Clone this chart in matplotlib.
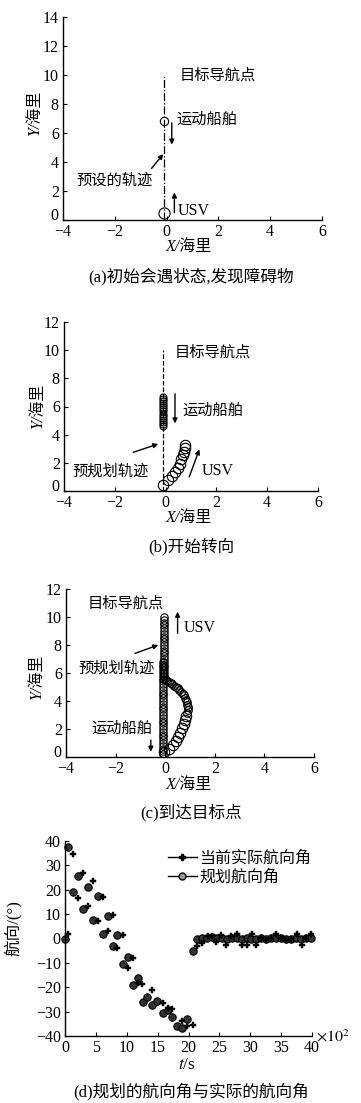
import matplotlib
matplotlib.use("Agg")
import matplotlib.pyplot as plt
from matplotlib.lines import Line2D

plt.rcParams['mathtext.fontset'] = 'stix'
plt.rcParams['font.family'] = ['Liberation Serif', 'Noto Sans CJK SC']

W, H = 361, 1103
SERIF = ['Liberation Serif', 'Noto Sans CJK SC']
CJK = ['Noto Sans CJK SC', 'DejaVu Sans']

# ---------------- data ----------------
# (a) initial state
a_track_x = [-0.1, -0.1]
a_track_y = [0.0, 10.0]
a_usv = (-0.1, 0.45)
a_ship = (-0.1, 6.8)

# (b) start turning
b_track_x = [-0.1, -0.1]
b_track_y = [0.0, 10.0]
b_usv_x = [-0.1, 0.1, 0.25, 0.38, 0.48, 0.55, 0.62, 0.68, 0.72, 0.75, 0.77]
b_usv_y = [0.45, 0.8, 1.05, 1.35, 1.65, 1.95, 2.25, 2.55, 2.8, 3.05, 3.25]
b_ship_y = [4.6, 4.75, 4.9, 5.05, 5.2, 5.35, 5.5, 5.65, 5.8, 5.95, 6.1, 6.25,
            6.4, 6.55, 6.7]
b_ship_x = -0.1

# (c) arrive at target
c_ship_x = -0.08
c_ship_y = [6.8, 6.6, 6.4, 6.2, 6.0, 5.8, 5.6, 5.4, 5.2, 5.0, 4.8, 4.6, 4.4,
            4.2, 4.0, 3.8, 3.6, 3.4, 3.2, 3.0, 2.8, 2.6, 2.4, 2.2, 2.0, 1.8,
            1.6, 1.4, 1.2, 1.0, 0.8, 0.6, 0.4, 0.2]
c_usv_low_x = [-0.05, 0.15, 0.3, 0.42, 0.52, 0.6, 0.67, 0.74, 0.8, 0.85]
c_usv_low_y = [0.35, 0.6, 0.86, 1.15, 1.45, 1.75, 2.05, 2.35, 2.65, 2.95]
c_usv_up_x = [0.88, 0.9, 0.9, 0.89, 0.87, 0.84, 0.8, 0.75, 0.7, 0.64, 0.57,
              0.5, 0.43, 0.36, 0.29, 0.22, 0.15, 0.08, 0.02]
c_usv_up_y = [3.15, 3.35, 3.55, 3.75, 3.95, 4.1, 4.25, 4.4, 4.52, 4.65, 4.78,
              4.9, 5.0, 5.1, 5.2, 5.28, 5.36, 5.44, 5.5]
c_usv_col_x = -0.05
c_usv_col_y = [5.6, 5.8, 6.0, 6.2, 6.4, 6.6, 6.8, 7.0, 7.2, 7.4, 7.6, 7.8,
               8.0, 8.2, 8.4, 8.6, 8.8, 9.0, 9.2, 9.4, 9.6, 9.8, 10.0]

# (d) headings, t in 1e2 s
plan_t = [0.0, 0.55, 1.25, 2.15, 2.95, 3.8, 4.6, 5.3, 6.2, 6.95, 7.8, 8.5,
          9.35, 10.15, 10.95, 11.75, 12.6, 13.35, 14.15, 14.95, 15.8, 16.6,
          17.4, 18.2, 19.0, 19.8, 20.65, 21.45, 22.2, 23.0, 23.8, 24.6, 25.4,
          26.2, 27.0, 27.8, 28.6, 29.4, 30.2, 31.0, 31.8, 32.6, 33.4, 34.2,
          35.0, 35.8, 36.6, 37.4, 38.2, 39.0, 39.8]
plan_v = [0.0, 37.5, 19.2, 25.8, 12.3, 21.2, 7.6, 17.6, 1.9, 9.3, -3.1, 1.3,
          -10.4, -7.5, -19.0, -16.3, -25.9, -24.1, -27.3, -25.6, -30.6, -29.5,
          -32.0, -36.0, -36.6, -33.0, -5.1, -0.2, 0.1, 0.3, 0.5, 0.2, 0.4,
          0.0, 0.3, 0.2, -0.2, 0.1, 0.0, -0.2, 0.1, 0.0, 0.2, 0.4, 0.1, 0.0,
          -0.2, 0.2, 0.0, 0.1, 0.2]
act_t = [0.55, 1.25, 2.15, 2.95, 3.8, 4.6, 5.3, 6.2, 6.95, 7.8, 8.5, 9.35,
         10.15, 10.95, 11.75, 12.55, 14.15, 15.8, 16.6, 17.4, 18.98, 19.8,
         20.65, 21.45, 22.2, 23.1, 23.8, 24.5, 25.3, 26.1, 26.9, 27.9, 28.7,
         29.5, 30.3, 31.0, 31.8, 32.6, 33.4, 34.2, 35.0, 35.8, 36.6, 37.5,
         38.3, 39.1, 39.9]
act_v = [1.8, 34.5, 16.6, 26.8, 13.2, 23.4, 7.3, 16.9, 3.1, 9.6, -3.7, 1.6,
         -12.2, -8.0, -18.2, -18.5, -21.0, -26.6, -28.7, -29.0, -34.0, -35.8,
         -35.3, -3.0, -2.0, 1.2, 1.1, -1.5, 1.4, -2.6, 1.1, 2.0, -2.5, -2.5,
         1.8, -2.7, 0.3, -0.5, 0.2, 1.8, 0.3, -0.5, 0.0, 1.8, -2.5, 0.2, 2.0]

fig = plt.figure(figsize=(W / 100, H / 100), dpi=100)


def fx(px):
    return px / W


def fy(py):
    return 1 - py / H


def make_ax(l, r, top, bot):
    ax = fig.add_axes([fx(l), fy(bot), (r - l) / W, (bot - top) / H])
    for s in ('top', 'right'):
        ax.spines[s].set_visible(False)
    for s in ('left', 'bottom'):
        ax.spines[s].set_linewidth(1.0)
    ax.tick_params(direction='in', length=3, width=0.8, labelsize=11.5)
    ax.tick_params(axis='x', pad=3)
    ax.tick_params(axis='y', pad=3)
    for lab in ax.get_xticklabels() + ax.get_yticklabels():
        lab.set_family(SERIF)
    return ax


def raise_zero(ax):
    ax.yaxis.get_major_ticks()[0].label1.set_verticalalignment('baseline')


def arrow(ax, x0, y0, x1, y1):
    ax.annotate('', xy=(x1, y1), xytext=(x0, y0),
                arrowprops=dict(arrowstyle='-|>', color='k', lw=1.0,
                                mutation_scale=7, shrinkA=0, shrinkB=0))


def cjk(ax, x, y, s, **kw):
    ax.text(x, y, s, family=CJK, fontsize=11, va='center', **kw)


def xylabels(xlab_y, ylab_x, ycen):
    fig.text(fx(189), fy(xlab_y), 'X/海里', family=SERIF, style='italic',
             fontsize=11.5, ha='center', va='center')
    fig.text(fx(ylab_x), fy(ycen), 'Y/海里', family=SERIF, style='italic',
             fontsize=11.5, ha='center', va='center', rotation=90)


def caption(y, s):
    fig.text(fx(191), fy(y), s, family=SERIF, fontsize=12, ha='center',
             va='center')


circ = dict(ls='none', marker='o', mfc='none', mec='k', mew=0.8)

# ---------------- (a) ----------------
ax = make_ax(63, 322, 17, 220)
ax.set_xlim(-4, 6)
ax.set_ylim(0, 14)
ax.set_xticks([-4, -2, 0, 2, 4, 6])
ax.set_yticks([0, 2, 4, 6, 8, 10, 12, 14])
raise_zero(ax)
ax.plot(a_track_x, a_track_y, color='k', ls='-.', lw=0.9)
ax.plot([a_usv[0]], [a_usv[1]], ms=8, **circ)
ax.plot([a_ship[0]], [a_ship[1]], ms=6, **circ)
arrow(ax, 0.2, 6.7, 0.2, 5.2)
arrow(ax, 0.3, 0.5, 0.3, 1.9)
arrow(ax, -0.58, 3.56, -0.13, 4.55)
cjk(ax, 0.5, 10.0, '目标导航点')
cjk(ax, 0.38, 6.97, '运动船舶')
cjk(ax, -2.0, 2.76, '预设的轨迹', ha='center')
ax.text(0.42, 0.6, 'USV', family=SERIF, fontsize=11.5, va='center')
xylabels(247, 35, 113)
caption(277, '(a)初始会遇状态,发现障碍物')

# ---------------- (b) ----------------
ax = make_ax(64, 318, 322, 491)
ax.set_xlim(-4, 6)
ax.set_ylim(0, 12)
ax.set_xticks([-4, -2, 0, 2, 4, 6])
ax.set_yticks([0, 2, 4, 6, 8, 10, 12])
raise_zero(ax)
ax.plot(b_track_x, b_track_y, color='k', ls='--', lw=0.9)
ax.plot([b_ship_x] * len(b_ship_y), b_ship_y, ms=5, **circ)
ax.plot(b_usv_x, b_usv_y, ms=7.5, **circ)
arrow(ax, 0.37, 6.9, 0.37, 4.8)
arrow(ax, 0.93, 1.0, 1.33, 2.96)
arrow(ax, -1.27, 2.75, -0.29, 3.34)
cjk(ax, 0.37, 9.9, '目标导航点')
cjk(ax, 0.67, 5.75, '运动船舶')
cjk(ax, -2.15, 1.44, '预规划轨迹', ha='center')
ax.text(1.42, 1.4, 'USV', family=SERIF, fontsize=11.5, va='center')
xylabels(518, 38, 406)
caption(547, '(b)开始转向')

# ---------------- (c) ----------------
ax = make_ax(66, 314, 589, 757)
ax.set_xlim(-4, 6)
ax.set_ylim(0, 12)
ax.set_xticks([-4, -2, 0, 2, 4, 6])
ax.set_yticks([0, 2, 4, 6, 8, 10, 12])
raise_zero(ax)
ax.plot([c_ship_x] * len(c_ship_y), c_ship_y, ms=5.3, **circ)
ax.plot([c_usv_col_x] * len(c_usv_col_y), c_usv_col_y, ms=5.3, **circ)
ax.plot(c_usv_up_x, c_usv_up_y, ms=5.5, **circ)
ax.plot(c_usv_low_x, c_usv_low_y, ms=7.5, **circ)
arrow(ax, 0.5, 8.83, 0.5, 10.38)
arrow(ax, -0.58, 1.21, -0.58, 0.38)
arrow(ax, -1.22, 7.4, -0.28, 8.0)
cjk(ax, -1.6, 10.98, '目标导航点', ha='center')
cjk(ax, -1.98, 6.34, '预规划轨迹', ha='center')
cjk(ax, -1.75, 2.05, '运动船舶', ha='center')
ax.text(0.75, 9.2, 'USV', family=SERIF, fontsize=11.5, va='center')
xylabels(785, 37, 677)
caption(813, '(c)到达目标点')

# ---------------- (d) ----------------
ax = make_ax(65, 312, 841, 1036)
ax.set_xlim(0, 40)
ax.set_ylim(-40, 40)
ax.set_xticks(range(0, 41, 5))
ax.set_yticks(range(-40, 41, 10))
ax.plot(plan_t, plan_v, ls='none', marker='o', ms=5.3, mfc='0.2', mec='k',
        mew=0.8, clip_on=False)
ax.plot(act_t, act_v, ls='none', marker='P', ms=4.2, mfc='k', mec='k',
        mew=0.3, clip_on=False)
handles = [Line2D([], [], color='k', lw=1.0, marker='P', ms=4.2),
           Line2D([], [], color='k', lw=1.0, marker='o', ms=5, mfc='0.6',
                  mec='k')]
fig.legend(handles, ['当前实际航向角', '规划航向角'], loc='upper left',
           bbox_to_anchor=(fx(168), fy(850)), frameon=False,
           prop=dict(family=CJK, size=11.5), handlelength=1.8,
           handletextpad=0.15, labelspacing=0.1, borderpad=0,
           borderaxespad=0)
fig.text(fx(316), fy(1037), r'$\times 10^2$', fontsize=11.5, ha='left',
         va='center')
fig.text(fx(187), fy(1065), r'$t$/s', fontsize=12.5, ha='center',
         va='center')
fig.text(fx(13), fy(928), '航向/(°)', family=SERIF, fontsize=12,
         ha='center', va='center', rotation=90)
caption(1092, '(d)规划的航向角与实际的航向角')

fig.savefig('out.png', dpi=100)
